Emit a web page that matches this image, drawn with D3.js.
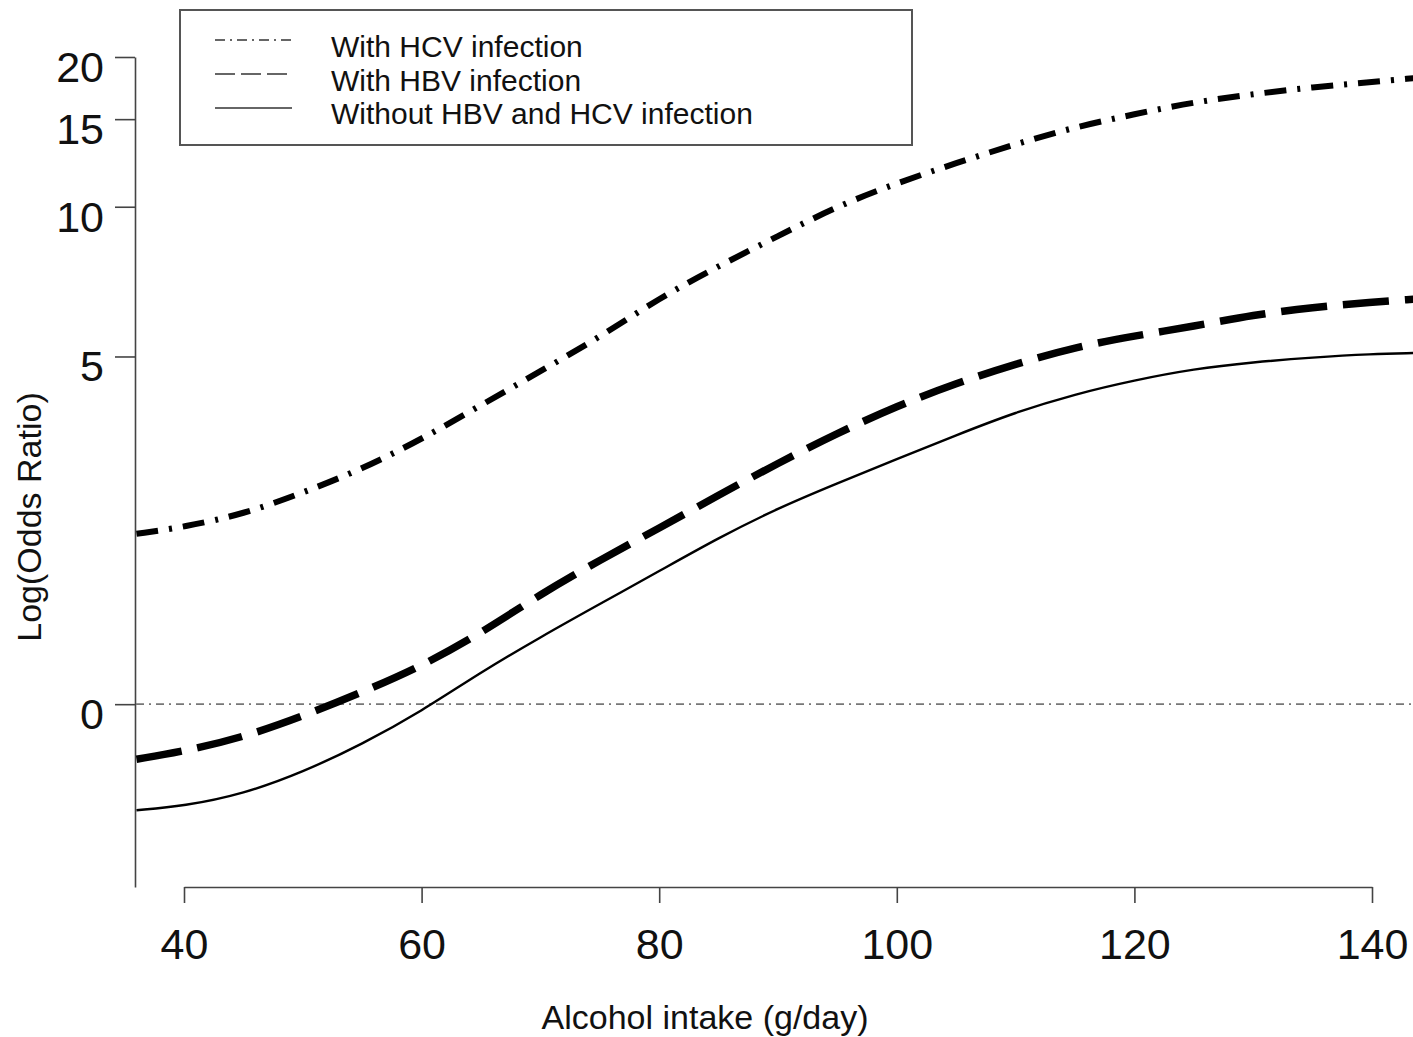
<!DOCTYPE html>
<html>
<head>
<meta charset="utf-8">
<script src="https://cdn.jsdelivr.net/npm/d3@7"></script>
<style>
  html, body { margin: 0; padding: 0; background: #fff; }
  svg { display: block; }
  text { font-family: "Liberation Sans", Arial, Helvetica, sans-serif; fill: #111; }
</style>
</head>
<body>
<svg id="chart" width="1413" height="1037"></svg>
<script>
// ---- data (odds ratios) ----
const alcohol = [36, 40, 45, 50, 55, 60, 65, 70, 75, 80, 85, 90, 95, 100, 105, 110, 115, 120, 125, 130, 135, 140, 143.5];
const orHCV   = [2.20, 2.27, 2.41, 2.66, 2.97, 3.41, 3.99, 4.67, 5.47, 6.55, 7.60, 8.73, 10.03, 11.16, 12.24, 13.37, 14.46, 15.35, 16.23, 16.84, 17.40, 17.81, 18.14];
const orHBV   = [0.775, 0.804, 0.858, 0.946, 1.057, 1.192, 1.389, 1.664, 1.948, 2.259, 2.632, 3.052, 3.507, 3.974, 4.42, 4.83, 5.22, 5.50, 5.75, 6.06, 6.28, 6.43, 6.52];
const orNone  = [0.612, 0.624, 0.660, 0.730, 0.831, 0.968, 1.160, 1.364, 1.590, 1.851, 2.160, 2.478, 2.780, 3.109, 3.474, 3.864, 4.20, 4.48, 4.72, 4.87, 4.98, 5.06, 5.08];
const seriesNames = ["With HCV infection", "With HBV infection", "Without HBV and HCV infection"];
const xTicks = [40, 60, 80, 100, 120, 140];
const yTicks = [1, 5, 10, 15, 20];
const yTickLabels = ["0", "5", "10", "15", "20"];
const xTitle = "Alcohol intake (g/day)";
const yTitle = "Log(Odds Ratio)";

const svg = d3.select("#chart");

// ---- scales ----
const x = d3.scaleLinear().domain([40, 140]).range([184, 1372]);
const yLow = 0.429;
const y = d3.scaleLog().domain([yLow, 20]).range([887, 57]);

// ---- axes ----
const yAxis = d3.axisLeft(y)
  .tickValues(yTicks)
  .tickFormat((d, i) => yTickLabels[i])
  .tickSize(20).tickSizeOuter(0).tickPadding(11);
const gy = svg.append("g").attr("transform", "translate(135,0)").call(yAxis);
gy.selectAll("path, line").attr("stroke", "#444").attr("stroke-width", 1.6);
gy.selectAll("text").attr("font-size", 43).attr("dy", "0.57em").attr("fill", "#111");

const xAxis = d3.axisBottom(x)
  .tickValues(xTicks)
  .tickFormat(d3.format("d"))
  .tickSize(16).tickSizeOuter(0).tickPadding(25);
const gx = svg.append("g").attr("transform", "translate(0,887)").call(xAxis);
gx.selectAll("path, line").attr("stroke", "#444").attr("stroke-width", 1.6);
gx.selectAll("text").attr("font-size", 43).attr("fill", "#111");

// ---- axis titles ----
svg.append("text")
  .attr("x", 705).attr("y", 1029)
  .attr("text-anchor", "middle").attr("font-size", 34)
  .text(xTitle);
svg.append("text")
  .attr("transform", "translate(41," + 517 + ") rotate(-90)")
  .attr("text-anchor", "middle").attr("font-size", 34)
  .text(yTitle);

// ---- reference line at OR = 1 (log OR = 0) ----
svg.append("line")
  .attr("x1", 136).attr("x2", 1413)
  .attr("y1", y(1)).attr("y2", y(1))
  .attr("stroke", "#777").attr("stroke-width", 1.6)
  .attr("stroke-dasharray", "8,5,2,5");

// ---- curves ----
const line = d3.line()
  .x((d, i) => x(alcohol[i]))
  .y(d => y(d))
  .curve(d3.curveBasis);

const styles = [
  { data: orHCV,  width: 6,   dash: "22,11,3,11" },
  { data: orHBV,  width: 7.5, dash: "46,16" },
  { data: orNone, width: 2.4, dash: null }
];
styles.forEach(s => {
  svg.append("path")
    .attr("d", line(s.data))
    .attr("fill", "none")
    .attr("stroke", "#000")
    .attr("stroke-width", s.width)
    .attr("stroke-dasharray", s.dash);
});

// ---- legend ----
const lg = svg.append("g");
lg.append("rect")
  .attr("x", 180).attr("y", 10).attr("width", 732).attr("height", 135)
  .attr("fill", "#fff").attr("stroke", "#555").attr("stroke-width", 2);
const legDash = ["10,5,2,5", "20,6", null];
const legLineY = [40, 74, 108];
const legTextY = [57, 91, 124];
seriesNames.forEach((name, i) => {
  lg.append("line")
    .attr("x1", 215).attr("x2", 292)
    .attr("y1", legLineY[i]).attr("y2", legLineY[i])
    .attr("stroke", "#666").attr("stroke-width", 1.8)
    .attr("stroke-dasharray", legDash[i]);
  lg.append("text")
    .attr("x", 331).attr("y", legTextY[i])
    .attr("font-size", 30)
    .text(name);
});
</script>
</body>
</html>
